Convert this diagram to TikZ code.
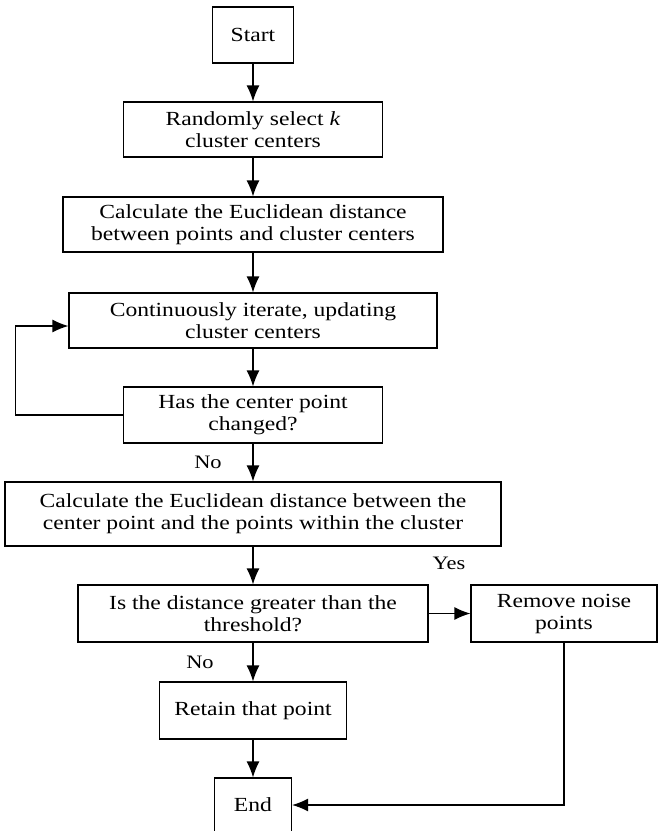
\documentclass[tikz,border=0pt]{standalone}
\usepackage{fontspec}
\setmainfont{Liberation Serif}[FakeStretch=1.18]
\usetikzlibrary{arrows.meta}
\tikzset{>={Latex[length=16pt,width=13pt]}}
\tikzset{
  box/.style={draw, line width=1.2pt, align=center, inner sep=0pt,
    font=\fontsize{20}{22}\selectfont},
  lbl/.style={font=\fontsize{19}{21}\selectfont}
}

\begin{document}
\begin{tikzpicture}[x=1pt, y=-1pt, line width=1.2pt]
    \useasboundingbox (0,0) rectangle (657,831);

    \node [box, minimum width=81pt, minimum height=56pt] (start) at (253, 35) {Start};

    \node [box, minimum width=259pt, minimum height=55pt] (select) at (253, 129.5)
    {Randomly select \textit{k}\\cluster centers};

    \node [box, minimum width=380pt, minimum height=55pt] (dist) at (253, 224.5)
    {Calculate the Euclidean distance\\between points and cluster centers};

    \node [box, minimum width=368pt, minimum height=55pt] (iter) at (253, 320.5)
    {Continuously iterate, updating\\cluster centers};

    \node [box, minimum width=259pt, minimum height=56pt] (changed) at (253, 415)
    {Has the center point\\changed?};

    \node [box, minimum width=496pt, minimum height=64pt] (dist2) at (253, 514)
    {Calculate the Euclidean distance between the\\center point and the points within the cluster};

    \node [box, minimum width=350pt, minimum height=57pt] (thresh) at (253, 613.5)
    {Is the distance greater than the\\threshold?};

    \node [box, minimum width=186pt, minimum height=57pt] (noise) at (564, 613.5)
    {Remove noise\\points};

    \node [box, minimum width=187pt, minimum height=57pt] (retain) at (253, 710.5)
    {Retain that point};

    \node [box, minimum width=77pt, minimum height=54pt] (end) at (253, 805) {End};

    \node [lbl] (no1) at (208, 462) {No};
    \node [lbl] (yes) at (449, 563) {Yes};
    \node [lbl] (no2) at (200, 662) {No};

    \coordinate (loopcorner) at (15.5, 415);

    \draw [->] (start) -- (select);
    \draw [->] (select) -- (dist);
    \draw [->] (dist) -- (iter);
    \draw [->] (iter) -- (changed);
    \draw [->] (changed.west) -- (loopcorner) |- ([yshift=-5.5pt]iter.west);
    \draw [->] (changed) -- (dist2);
    \draw [->] (dist2) -- (thresh);
    \draw [->] (thresh) -- (noise);
    \draw [->] (thresh) -- (retain);
    \draw [->] (retain) -- (end);
    \draw [->] (noise.south) |- (end.east);
\end{tikzpicture}
\end{document}
